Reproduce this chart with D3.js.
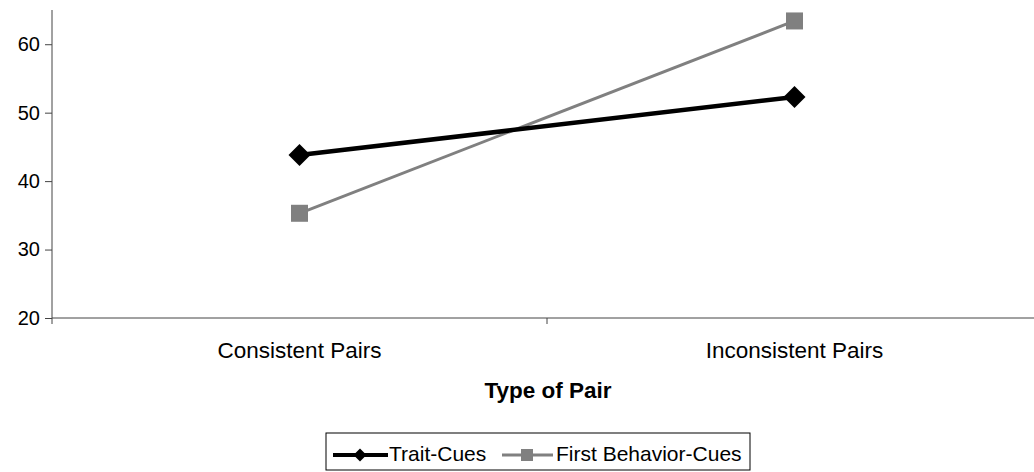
<!DOCTYPE html>
<html>
<head>
<meta charset="utf-8">
<script src="https://cdn.jsdelivr.net/npm/d3@7"></script>
<style>
  html, body { margin: 0; padding: 0; background: #fff; }
  svg { display: block; font-family: "Liberation Sans", Arial, sans-serif; }
</style>
</head>
<body>
<svg id="chart" width="1034" height="472"></svg>
<script>
const categories = ["Consistent Pairs", "Inconsistent Pairs"];
const traitCues = [43.8, 52.3];
const firstBehaviorCues = [35.3, 63.4];
const seriesNames = ["Trait-Cues", "First Behavior-Cues"];
const yTicks = [20, 30, 40, 50, 60];
const xTitle = "Type of Pair";

const svg = d3.select("#chart");
const plotLeft = 52, plotRight = 1042, plotTop = 10, plotBottom = 318;

const x = d3.scaleBand().domain(categories).range([plotLeft, plotRight]).padding(0);
const y = d3.scaleLinear().domain([20, 65]).range([plotBottom, plotTop]);

// Y axis
const yAxis = svg.append("g").attr("transform", `translate(${plotLeft},0)`)
  .call(d3.axisLeft(y).tickValues(yTicks).tickSize(7).tickPadding(5).tickFormat(d3.format("d")));
yAxis.select(".domain").attr("stroke", "#444").attr("d", `M0,${plotTop}V${plotBottom + 6}`);
yAxis.selectAll(".tick line").attr("stroke", "#444");
yAxis.selectAll(".tick text").attr("font-size", 20).attr("fill", "#000")
  .attr("font-family", "Liberation Sans, Arial, sans-serif");

// X axis line with ticks at band boundaries
const xg = svg.append("g");
xg.append("line").attr("x1", plotLeft).attr("x2", plotRight).attr("y1", plotBottom).attr("y2", plotBottom)
  .attr("stroke", "#444");
const boundaries = [x(categories[1])];
xg.selectAll(".bt").data(boundaries).join("line")
  .attr("x1", d => d).attr("x2", d => d).attr("y1", plotBottom).attr("y2", plotBottom + 6)
  .attr("stroke", "#444");
xg.selectAll(".cat").data(categories).join("text")
  .attr("x", d => x(d) + x.bandwidth() / 2).attr("y", 358)
  .attr("text-anchor", "middle").attr("font-size", 22.5).attr("fill", "#000")
  .text(d => d);

svg.append("text").attr("x", (plotLeft + plotRight) / 2 + 1).attr("y", 398)
  .attr("text-anchor", "middle").attr("font-size", 22.5).attr("font-weight", "bold")
  .text(xTitle);

const cx = d => x(d) + x.bandwidth() / 2;
const line = d3.line().x(d => cx(d.c)).y(d => y(d.v));

const tData = categories.map((c, i) => ({ c, v: traitCues[i] }));
const fData = categories.map((c, i) => ({ c, v: firstBehaviorCues[i] }));

// Gray series
svg.append("path").datum(fData).attr("d", line).attr("fill", "none")
  .attr("stroke", "#808080").attr("stroke-width", 3);
svg.selectAll(".sq").data(fData).join("rect")
  .attr("x", d => cx(d.c) - 8.5).attr("y", d => y(d.v) - 8.5)
  .attr("width", 17).attr("height", 17).attr("fill", "#808080");

// Black series
svg.append("path").datum(tData).attr("d", line).attr("fill", "none")
  .attr("stroke", "#000").attr("stroke-width", 4.5);
const diamond = (px, py, r) => `M${px},${py - r}L${px + r},${py}L${px},${py + r}L${px - r},${py}Z`;
svg.selectAll(".dm").data(tData).join("path")
  .attr("d", d => diamond(cx(d.c), y(d.v), 11)).attr("fill", "#000");

// Legend
const lg = svg.append("g");
lg.append("rect").attr("x", 326).attr("y", 433).attr("width", 424).attr("height", 37)
  .attr("fill", "none").attr("stroke", "#000").attr("stroke-width", 1);
lg.append("line").attr("x1", 333).attr("x2", 388).attr("y1", 455).attr("y2", 455)
  .attr("stroke", "#000").attr("stroke-width", 4);
lg.append("path").attr("d", diamond(360, 455, 6.5)).attr("fill", "#000");
lg.append("text").attr("x", 389).attr("y", 461).attr("font-size", 21).text(seriesNames[0]);
lg.append("line").attr("x1", 502).attr("x2", 553).attr("y1", 455).attr("y2", 455)
  .attr("stroke", "#808080").attr("stroke-width", 3);
lg.append("rect").attr("x", 521).attr("y", 449).attr("width", 12).attr("height", 12).attr("fill", "#808080");
lg.append("text").attr("x", 556).attr("y", 461).attr("font-size", 21).text(seriesNames[1]);
</script>
</body>
</html>
